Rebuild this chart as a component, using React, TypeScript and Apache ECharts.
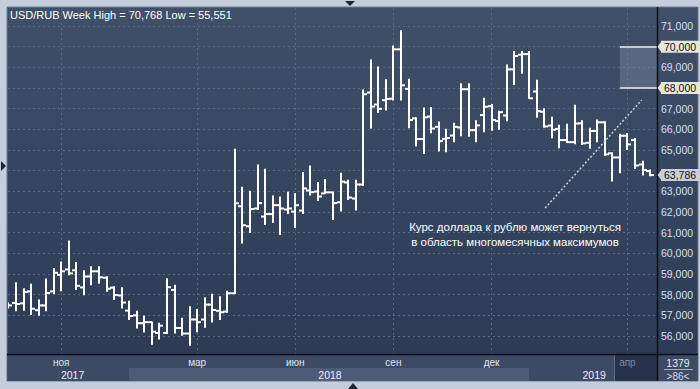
import React, { useEffect, useRef } from "react";
import * as echarts from "echarts";

// ---- data (weekly OHLC, USD/RUB) ----
const weeks = [
  0, 1, 2, 3, 4, 5, 6, 7, 8, 9, 10, 11, 12, 13, 14, 15, 16, 17, 18, 19, 20,
  21, 22, 23, 24, 25, 26, 27, 28, 29, 30, 31, 32, 33, 34, 35, 36, 37, 38, 39,
  40, 41, 42, 43, 44, 45, 46, 47, 48, 49, 50, 51, 52, 53, 54, 55, 56, 57, 58,
  59, 60, 61, 62, 63, 64, 65, 66, 67, 68, 69, 70, 71, 72, 73, 74, 75, 76, 77,
  78, 79, 80, 81, 82, 83, 84, 85,
];
const opens = [
  57.45, 57.6, 57.58, 58.16, 57.25, 57.48, 58.16, 58.96, 59.22, 59.18, 58.35,
  58.88, 59.13, 58.82, 58.34, 57.96, 57.23, 57.0, 56.62, 56.67, 56.15, 56.15,
  58.23, 56.39, 56.12, 56.8, 56.8, 57.52, 57.22, 57.18, 58.07, 62.28, 61.31,
  62.17, 61.78, 61.9, 62.33, 62.12, 62.02, 62.07, 63.04, 62.99, 62.9, 62.95,
  62.47, 63.43, 62.65, 63.33, 67.78, 67.2, 67.41, 67.48, 69.87, 67.96, 66.53,
  65.53, 66.62, 66.12, 65.54, 65.7, 66.09, 67.94, 65.96, 66.69, 67.12, 66.4,
  66.67, 68.9, 69.61, 69.64, 67.83, 66.85, 66.18, 66.02, 65.48, 65.38, 66.29,
  65.35, 65.92, 66.34, 64.84, 64.64, 65.69, 65.48, 64.3, 63.98,
];
const highs = [
  57.6, 58.58, 58.29, 58.51, 57.74, 58.76, 59.27, 59.58, 60.6, 59.56, 59.16,
  59.35, 59.35, 58.87, 58.38, 58.33, 57.68, 57.2, 56.97, 56.68, 56.62, 58.77,
  58.46, 56.86, 57.41, 57.28, 57.85, 58.02, 57.9, 58.17, 65.04, 63.2, 63.01,
  64.27, 64.07, 62.77, 62.72, 62.95, 62.9, 63.91, 64.22, 63.43, 63.57, 62.95,
  63.87, 63.54, 63.54, 67.9, 69.35, 69.01, 68.4, 70.03, 70.768, 68.42, 66.56,
  67.03, 67.06, 66.35, 66.0, 66.29, 68.2, 68.2, 66.41, 67.5, 67.2, 66.88,
  69.11, 69.76, 69.76, 69.76, 68.38, 67.0, 66.59, 66.2, 66.25, 67.17, 66.42,
  66.05, 66.45, 66.37, 64.87, 65.76, 65.8, 65.56, 64.46, 64.03,
];
const lows = [
  57.35, 57.22, 57.25, 57.04, 57.0, 57.22, 58.06, 58.19, 58.96, 58.25, 58.0,
  58.48, 58.55, 58.16, 57.77, 57.36, 56.8, 56.39, 56.2, 55.6, 55.86, 56.12,
  56.15, 56.04, 55.551, 56.21, 56.42, 56.68, 56.8, 57.15, 58.06, 60.5, 61.01,
  62.12, 61.4, 61.49, 60.91, 61.93, 61.25, 61.93, 62.82, 62.56, 62.9, 61.64,
  62.05, 62.6, 62.1, 63.3, 66.07, 66.82, 66.93, 67.42, 67.42, 66.08, 65.19,
  64.83, 65.83, 64.95, 64.91, 65.4, 65.69, 65.66, 65.4, 65.88, 65.96, 66.0,
  66.41, 68.17, 68.71, 67.5, 66.58, 66.1, 65.59, 65.11, 65.36, 65.3, 65.27,
  65.08, 65.4, 64.75, 63.5, 63.9, 65.03, 64.11, 63.79, 63.75,
];
const closes = [
  57.48, 57.55, 58.13, 57.32, 57.48, 58.08, 59.06, 59.13, 59.03, 58.43, 58.88,
  59.13, 58.84, 58.29, 57.98, 57.62, 56.97, 56.62, 56.67, 56.21, 56.5, 58.36,
  56.39, 56.12, 56.8, 56.67, 57.52, 57.26, 57.15, 58.07, 62.42, 61.36, 62.14,
  62.43, 61.9, 62.33, 62.17, 62.17, 62.33, 63.14, 62.96, 62.75, 62.95, 62.43,
  63.47, 62.7, 63.33, 67.7, 67.1, 66.99, 67.47, 69.87, 68.13, 66.45, 65.53,
  66.58, 66.04, 65.43, 65.58, 66.12, 67.94, 65.96, 66.19, 67.09, 66.45, 66.83,
  68.9, 69.55, 69.64, 67.5, 66.88, 66.14, 65.98, 65.48, 65.38, 66.28, 65.32,
  65.92, 66.34, 64.79, 64.64, 65.69, 65.27, 64.25, 64.03, 63.786,
];

const monthTicks = [7, 25, 38, 51, 64, 82];
const monthLabels = ["ноя", "мар", "июн", "сен", "дек", "апр"];
const yearTicks = [8.5, 42.6, 77.6];
const yearLabels = ["2017", "2018", "2019"];
const yTicks = [56, 57, 58, 59, 60, 61, 62, 63, 64, 65, 66, 67, 68, 69, 70, 71];
const yLabelTicks = [56, 57, 58, 59, 60, 61, 62, 63, 65, 66, 67, 69, 71];
const zoneTop = 70;
const zoneBottom = 68;
const zoneStart = 81;
const lastPrice = 63.786;
const trendFrom = [71.1, 62.19];
const trendTo = [83.9, 67.42];

const X_MIN = -0.06;
const X_MAX = 85.92;

const FONT = '"Liberation Sans", Arial, sans-serif';
const fmt = (v: number) => v.toFixed(3).replace(".", ",");

export default function App() {
  const ref = useRef<HTMLDivElement>(null);

  useEffect(() => {
    document.body.style.margin = "0";
    const chart = echarts.init(ref.current!, null, { renderer: "svg" });

    const ohlc = weeks.map((w, i) => [w, opens[i], highs[i], lows[i], closes[i]]);
    const gridLine = { show: true, lineStyle: { color: "#5a6883", type: [2, 3], width: 1 } };

    const boxLabel = (text: string, bg: string) => ({
      show: true,
      position: "end",
      distance: 4,
      formatter: text,
      color: "#111111",
      backgroundColor: bg,
      padding: [1, 8, 0, 3],
      fontSize: 10.5,
      fontFamily: FONT,
    });

    chart.setOption({
      animation: false,
      backgroundColor: "#c3cddb",
      grid: { left: 8, top: 8, width: 649, height: 346, show: false },
      xAxis: [
        {
          type: "value",
          min: X_MIN,
          max: X_MAX,
          axisLine: { show: false },
          axisTick: { show: false, customValues: monthTicks },
          splitLine: gridLine,
          axisLabel: {
            customValues: monthTicks,
            margin: 3,
            color: "#dfe6f0",
            fontSize: 10,
            fontFamily: FONT,
            formatter: (v: number) => {
              const k = monthTicks.indexOf(v);
              const t = k >= 0 ? monthLabels[k] : "";
              return v === 82 ? "{g|" + t + "}" : t;
            },
            rich: { g: { color: "#7f8a9e", fontSize: 10, fontFamily: FONT } },
          },
        },
        {
          type: "value",
          min: X_MIN,
          max: X_MAX,
          position: "bottom",
          offset: 12,
          axisLine: { show: false },
          axisTick: { show: false, customValues: yearTicks },
          splitLine: { show: false },
          axisLabel: {
            customValues: yearTicks,
            margin: 3,
            color: "#eaeff6",
            fontSize: 10.5,
            fontFamily: FONT,
            formatter: (v: number) => {
              const k = yearTicks.indexOf(v);
              return k >= 0 ? yearLabels[k] : "";
            },
          },
        },
      ],
      yAxis: {
        type: "value",
        min: 55.13,
        max: 71.87,
        position: "right",
        axisLine: { show: false },
        axisTick: { show: false, customValues: yTicks },
        splitLine: gridLine,
        axisLabel: {
          customValues: yLabelTicks,
          formatter: (v: number) => fmt(v),
          color: "#d3e0f2",
          fontSize: 10.5,
          fontFamily: FONT,
          margin: 4,
          align: "left",
        },
      },
      graphic: [
        {
          type: "rect",
          z: -10,
          shape: { x: 7, y: 7, width: 691, height: 374 },
          style: {
            fill: {
              type: "linear",
              x: 0,
              y: 0,
              x2: 0,
              y2: 1,
              colorStops: [
                { offset: 0, color: "#405069" },
                { offset: 1, color: "#2b3953" },
              ],
            },
            stroke: "#6c7b93",
            lineWidth: 1,
          },
        },
        { type: "rect", z: -9, shape: { x: 7.5, y: 355, width: 690, height: 26 }, style: { fill: "#3d4a64" } },
        { type: "rect", z: -8, shape: { x: 129, y: 368, width: 400, height: 13 }, style: { fill: "#4d5b76" } },
        { type: "rect", z: -8, shape: { x: 614, y: 355, width: 43, height: 26 }, style: { fill: "#26314a" } },
        { type: "line", z: -7, shape: { x1: 614.5, y1: 355, x2: 614.5, y2: 381 }, style: { stroke: "#5f6b83", lineWidth: 1 } },
        { type: "line", z: 20, shape: { x1: 7, y1: 354.5, x2: 698, y2: 354.5 }, style: { stroke: "#0b0f16", lineWidth: 1.5 } },
        { type: "line", z: 20, shape: { x1: 657.5, y1: 7, x2: 657.5, y2: 381 }, style: { stroke: "#0b0f16", lineWidth: 1.5 } },
        { type: "line", z: 20, shape: { x1: 664, y1: 369.5, x2: 693, y2: 369.5 }, style: { stroke: "#a9b5c7", lineWidth: 1 } },
        {
          type: "text",
          z: 20,
          x: 10,
          y: 9,
          style: { text: "USD/RUB Week High = 70,768 Low = 55,551", fill: "#ffffff", fontSize: 11, fontFamily: FONT },
        },
        {
          type: "text",
          z: 20,
          x: 678,
          y: 357,
          style: { text: "1379", fill: "#e3eaf4", fontSize: 10.5, fontFamily: FONT, align: "center" },
        },
        {
          type: "text",
          z: 20,
          x: 678,
          y: 371,
          style: { text: ">86<", fill: "#d3ddec", fontSize: 10, fontFamily: FONT, align: "center" },
        },
        {
          type: "text",
          z: 20,
          x: 515,
          y: 219,
          style: {
            text: "Курс доллара к рублю может вернуться\nв область многомесячных максимумов",
            fill: "#ffffff",
            fontSize: 11.5,
            lineHeight: 15,
            fontFamily: FONT,
            align: "center",
          },
        },
        { type: "polygon", z: 20, shape: { points: [[345, 1], [355, 1], [350, 6]] }, style: { fill: "#1d2738" } },
        { type: "polygon", z: 20, shape: { points: [[1, 161], [1, 171], [6, 166]] }, style: { fill: "#1d2738" } },
        { type: "polygon", z: 20, shape: { points: [[348, 389], [358, 389], [353, 383]] }, style: { fill: "#1d2738" } },
        { type: "polygon", z: 30, shape: { points: [[657.5, 46.7], [661.5, 41.5], [661.5, 52]] }, style: { fill: "#e6e7d6" } },
        { type: "polygon", z: 30, shape: { points: [[657.5, 88], [661.5, 82.7], [661.5, 93.2]] }, style: { fill: "#e6e7d6" } },
        { type: "polygon", z: 30, shape: { points: [[657.5, 175.1], [661.5, 169.8], [661.5, 180.3]] }, style: { fill: "#c9ced7" } },
      ],
      series: [
        {
          type: "custom",
          clip: true,
          data: ohlc,
          encode: { x: 0, y: [1, 2, 3, 4] },
          renderItem: (params: any, api: any) => {
            const x = api.value(0);
            const o = api.coord([x, api.value(1)]);
            const h = api.coord([x, api.value(2)]);
            const l = api.coord([x, api.value(3)]);
            const c = api.coord([x, api.value(4)]);
            const cx = Math.round(o[0]);
            const st = { stroke: "#ffffff", lineWidth: 2 };
            return {
              type: "group",
              children: [
                { type: "line", shape: { x1: cx, y1: h[1] - 0.5, x2: cx, y2: l[1] + 0.5 }, style: st },
                { type: "line", shape: { x1: cx - 4, y1: o[1], x2: cx, y2: o[1] }, style: st },
                { type: "line", shape: { x1: cx, y1: c[1], x2: cx + 4, y2: c[1] }, style: st },
              ],
            };
          },
          markArea: {
            silent: true,
            itemStyle: { color: "rgba(150,160,180,0.32)" },
            data: [[{ coord: [zoneStart, zoneTop] }, { coord: [X_MAX, zoneBottom] }]],
          },
          markLine: {
            silent: true,
            symbol: ["none", "none"],
            data: [
              [
                {
                  coord: [zoneStart, zoneTop],
                  lineStyle: { color: "#eeeeee", width: 1.5, type: "solid" },
                  label: boxLabel(fmt(zoneTop), "#e6e7d6"),
                },
                { coord: [X_MAX, zoneTop] },
              ],
              [
                {
                  coord: [zoneStart, zoneBottom],
                  lineStyle: { color: "#eeeeee", width: 1.5, type: "solid" },
                  label: boxLabel(fmt(zoneBottom), "#e6e7d6"),
                },
                { coord: [X_MAX, zoneBottom] },
              ],
              [
                {
                  coord: [weeks[weeks.length - 1], lastPrice],
                  lineStyle: { color: "rgba(0,0,0,0)", width: 0 },
                  label: boxLabel(fmt(lastPrice), "#c9ced7"),
                },
                { coord: [X_MAX, lastPrice] },
              ],
              [
                {
                  coord: trendFrom,
                  lineStyle: { color: "#c9d1dd", width: 1.5, type: [2, 2] },
                  label: { show: false },
                },
                { coord: trendTo },
              ],
            ],
          },
        },
      ],
    });

    return () => chart.dispose();
  }, []);

  return (
    <div
      ref={ref}
      style={{ position: "fixed", left: 0, top: 0, width: 700, height: 389 }}
    />
  );
}
